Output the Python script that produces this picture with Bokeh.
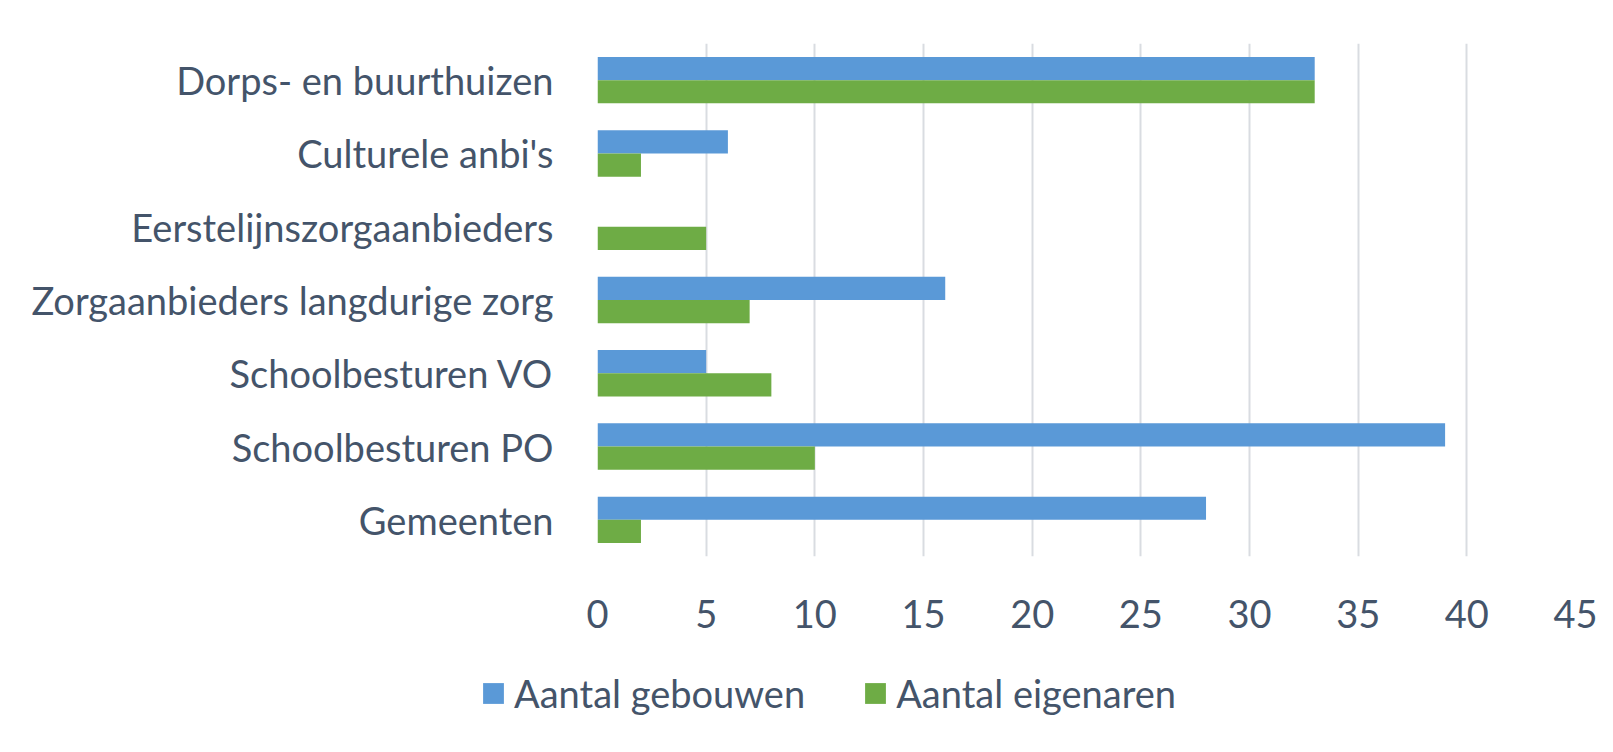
from bokeh.plotting import figure
from bokeh.layouts import column
from bokeh.models import FactorRange, Range1d, FixedTicker, Legend, LegendItem, ColumnDataSource
from bokeh.transform import dodge
from bokeh.embed import file_html
from bokeh.resources import INLINE

categories = ["Dorps- en buurthuizen", "Culturele anbi's", "Eerstelijnszorgaanbieders",
              "Zorgaanbieders langdurige zorg", "Schoolbesturen VO", "Schoolbesturen PO", "Gemeenten"]
gebouwen = [33, 6, 0, 16, 5, 39, 28]
eigenaren = [33, 2, 5, 7, 8, 10, 2]
series_names = ["Aantal gebouwen", "Aantal eigenaren"]
x_ticks = [0, 5, 10, 15, 20, 25, 30, 35, 40, 45]

FONT = "Lato"
TXT = "#44546A"
BLUE = "#5A99D7"
GREEN = "#6EAC45"
W = 1605

src = ColumnDataSource(dict(cat=categories, g=gebouwen, e=eigenaren))

p = figure(width=W, height=650, output_backend="svg", toolbar_location=None,
           y_range=FactorRange(factors=list(reversed(categories))),
           x_range=Range1d(0, 45),
           min_border_left=597, min_border_right=30, min_border_top=43, min_border_bottom=94)
p.outline_line_color = None
p.background_fill_color = "white"
p.frame_align = False

bw = 0.317
p.hbar(y=dodge("cat", bw / 2, range=p.y_range), right="g", left=0, height=bw,
       source=src, fill_color=BLUE, line_color=None)
p.hbar(y=dodge("cat", -bw / 2, range=p.y_range), right="e", left=0, height=bw,
       source=src, fill_color=GREEN, line_color=None)

p.xaxis.ticker = FixedTicker(ticks=x_ticks)
p.xaxis.axis_line_color = None
p.xaxis.major_tick_line_color = None
p.xaxis.minor_tick_line_color = None
p.xaxis.major_label_text_font = FONT
p.xaxis.major_label_text_font_size = "38px"
p.xaxis.major_label_text_color = TXT
p.xaxis.major_label_standoff = 37

p.yaxis.axis_line_color = None
p.yaxis.major_tick_line_color = None
p.yaxis.major_label_text_font = FONT
p.yaxis.major_label_text_font_size = "38px"
p.yaxis.major_label_text_color = TXT
p.yaxis.major_label_standoff = 38

p.ygrid.grid_line_color = None
p.xgrid.grid_line_color = "#D9DCE1"
p.xgrid.grid_line_width = 2

# legend strip below the chart (its key glyphs sit outside the visible range)
lg = figure(width=W, height=94, output_backend="svg", toolbar_location=None,
            x_range=Range1d(0, 1), y_range=Range1d(0, 1),
            x_axis_type=None, y_axis_type=None, min_border=0)
lg.outline_line_color = None
lg.grid.grid_line_color = None
lg.frame_align = False
k1 = lg.hbar(y=[5], right=[5], left=[5], height=0.1, fill_color=BLUE, line_color=None)
k2 = lg.hbar(y=[5], right=[5], left=[5], height=0.1, fill_color=GREEN, line_color=None)
legend = Legend(items=[LegendItem(label=series_names[0], renderers=[k1]),
                       LegendItem(label=series_names[1], renderers=[k2])],
                location=(480, 28), orientation="horizontal",
                glyph_width=26, glyph_height=26, label_standoff=8, spacing=57,
                padding=0, margin=0, border_line_color=None, background_fill_alpha=0,
                label_text_font=FONT, label_text_font_size="38px", label_text_color=TXT)
lg.add_layout(legend, "center")

open("out.html", "w").write(file_html(column(p, lg, spacing=0), INLINE))
